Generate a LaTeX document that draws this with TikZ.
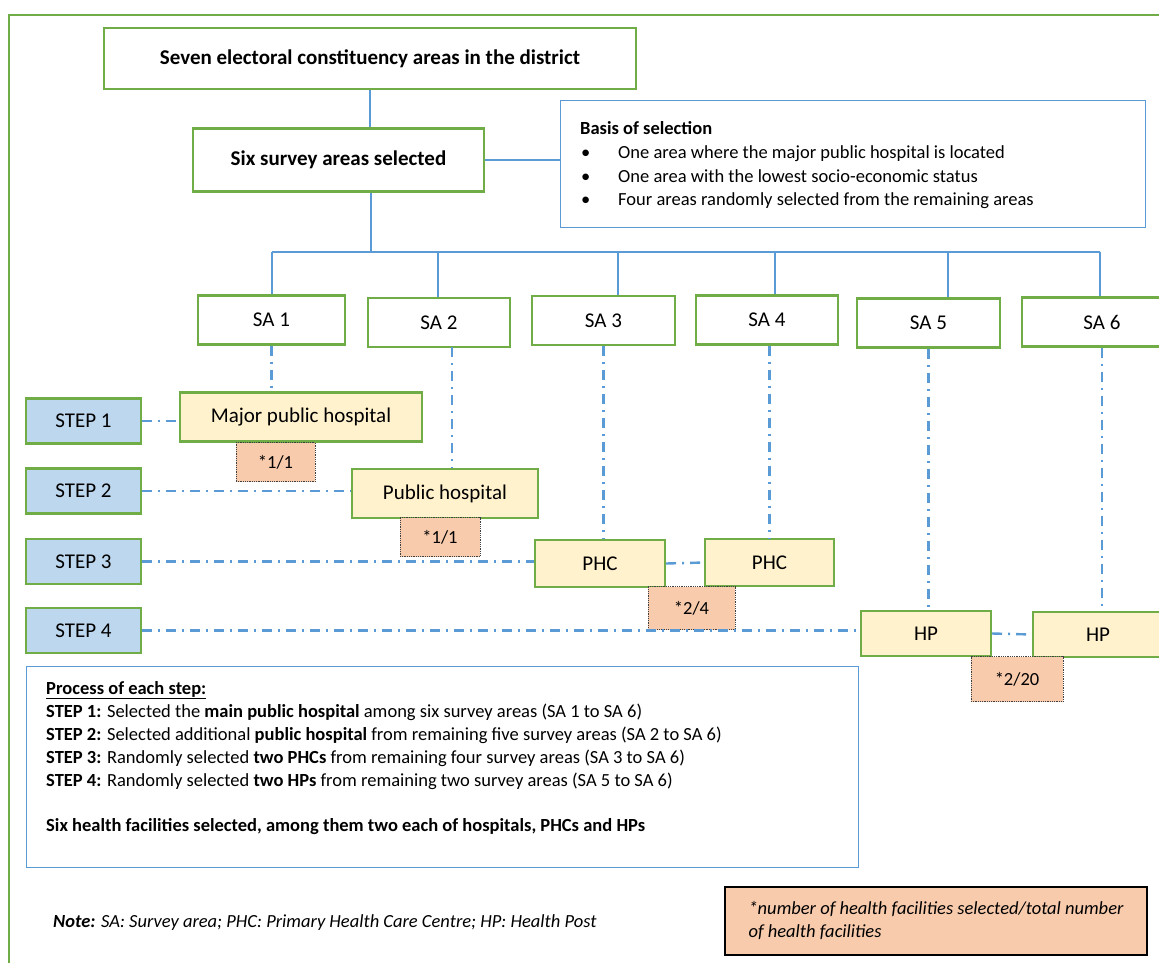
\documentclass[tikz,border=0pt]{standalone}
\usepackage{fontspec}
\setmainfont{Carlito}
\definecolor{boxgreen}{HTML}{70AD47}
\definecolor{lineblue}{HTML}{5B9BD5}
\definecolor{stepblue}{HTML}{BDD7EE}
\definecolor{facyellow}{HTML}{FFF2CC}
\definecolor{peach}{HTML}{F8CBAD}
\begin{document}
\begin{tikzpicture}[x=1pt,y=-1pt,
    greenbox/.style={draw=boxgreen,line width=2.4pt,fill=white,inner sep=0pt,
      font=\fontsize{21}{25}\selectfont},
    headbox/.style={greenbox,font=\bfseries\fontsize{21}{25}\selectfont},
    areabox/.style={greenbox,minimum height=49pt},
    stepbox/.style={greenbox,fill=stepblue,minimum width=115pt,minimum height=45pt},
    facbox/.style={greenbox,fill=facyellow},
    countbox/.style={draw=black!75,densely dotted,line width=0.8pt,fill=peach,
      inner sep=0pt,font=\fontsize{18.5}{22}\selectfont},
    infobox/.style={draw=lineblue,line width=1.2pt,inner sep=0pt},
    bodytext/.style={inner sep=0pt,align=left,font=\fontsize{18.5}{23.3}\selectfont},
    treeline/.style={draw=lineblue,line width=2.2pt},
    pickline/.style={draw=lineblue,line width=2.4pt,dash pattern=on 10pt off 6pt on 2pt off 6pt}]
  \useasboundingbox (0,0) rectangle (1159,962);
  \clip (0,0) rectangle (1159,962);
  \draw[boxgreen,line width=2.4pt] (9,15) rectangle (1190,990);

  % top of the tree
  \node[headbox,minimum width=532pt,minimum height=61pt] (top) at (370,58.5)
    {Seven electoral constituency areas in the district};
  \node[headbox,minimum width=291pt,minimum height=63pt] (six) at (338.5,160)
    {Six survey areas selected};
  \node[infobox,minimum width=585pt,minimum height=127pt,anchor=north west] (basis) at (560,100) {};
  \node[bodytext,anchor=north west,font=\fontsize{18.5}{23.7}\selectfont] (basistext) at (580,121.5)
    {\textbf{Basis of selection}\\
     \makebox[38pt][l]{\hspace{1pt}\textbullet}One area where the major public hospital is located\\
     \makebox[38pt][l]{\hspace{1pt}\textbullet}One area with the lowest socio-economic status\\
     \makebox[38pt][l]{\hspace{1pt}\textbullet}Four areas randomly selected from the remaining areas};

  % survey areas
  \node[areabox,minimum width=147pt] (sa1) at (271.5,320) {SA 1};
  \node[areabox,minimum width=142pt] (sa2) at (439,322.5) {SA 2};
  \node[areabox,minimum width=143pt] (sa3) at (603.5,320.5) {SA 3};
  \node[areabox,minimum width=142pt] (sa4) at (767,320) {SA 4};
  \node[areabox,minimum width=143pt] (sa5) at (928.5,323) {SA 5};
  \node[areabox,minimum width=160pt] (sa6) at (1102,322) {SA 6};

  \coordinate (fork) at (371,252);
  \coordinate (bus1) at (272,252);
  \coordinate (bus2) at (438,252);
  \coordinate (bus3) at (618,252);
  \coordinate (bus4) at (775,252);
  \coordinate (bus5) at (948,252);
  \coordinate (bus6) at (1100,252);

  % steps
  \node[stepbox] (step1) at (83.5,421) {STEP 1};
  \node[stepbox] (step2) at (83.5,491) {STEP 2};
  \node[stepbox] (step3) at (83.5,561.5) {STEP 3};
  \node[stepbox] (step4) at (83.5,630.5) {STEP 4};

  % selected facilities
  \node[facbox,minimum width=242pt,minimum height=49pt] (major) at (301,417) {Major public hospital};
  \node[facbox,minimum width=186pt,minimum height=49pt] (pub) at (445,493.5) {Public hospital};
  \node[facbox,minimum width=130pt,minimum height=47pt] (phc1) at (600,563.5) {PHC};
  \node[facbox,minimum width=129pt,minimum height=47pt] (phc2) at (769.5,562.5) {PHC};
  \node[facbox,minimum width=130pt,minimum height=45pt] (hp1) at (926,633.5) {HP};
  \node[facbox,minimum width=130pt,minimum height=45pt] (hp2) at (1098,634.5) {HP};

  \node[countbox,minimum width=79pt,minimum height=39pt] (count1) at (275.5,462) {*1/1};
  \node[countbox,minimum width=80pt,minimum height=39pt] (count2) at (440,537) {*1/1};
  \node[countbox,minimum width=87pt,minimum height=43pt] (count3) at (691.5,608) {*2/4};
  \node[countbox,minimum width=92pt,minimum height=45pt] (count4) at (1017,679) {*2/20};

  \coordinate (drop2) at (452,347);

  \begin{scope}
    \draw[treeline] (top.south) -- (top.south |- six.north);
    \draw[treeline] (six.south -| fork) -- (fork);
    \draw[treeline] (bus1) -- (bus6);
    \foreach \i in {1,...,6}
      \draw[treeline] (bus\i) -- (bus\i |- sa\i.north);
    \draw[treeline,line width=1.2pt] (six.east) -- (six.east -| basis.west);
  \end{scope}
  \begin{scope}
    \draw[pickline] (sa1.south) -- (sa1.south |- major.north);
    \draw[pickline] (drop2) -- (drop2 |- pub.north);
    \draw[pickline] (sa3.south) -- (sa3.south |- phc1.north);
    \draw[pickline] (phc2.north |- sa4.south) -- (phc2.north);
    \draw[pickline] (sa5.south) -- (sa5.south |- hp1.north);
    \draw[pickline] (sa6.south) -- (sa6.south |- hp2.north);
    \draw[pickline] (step1.east) -- (step1.east -| major.west);
    \draw[pickline] (step2.east) -- (step2.east -| pub.west);
    \draw[pickline] (step3.east) -- (step3.east -| phc1.west);
    \draw[pickline] (phc1.east) -- (phc2.west);
    \draw[pickline] (step4.east) -- (step4.east -| hp1.west);
    \draw[pickline] (hp1.east) -- (hp2.west);
  \end{scope}

  % process description
  \node[infobox,minimum width=832pt,minimum height=201pt,anchor=north west] (process) at (26,666) {};
  \node[bodytext,anchor=north west,font=\fontsize{18.5}{23}\selectfont] (processtext) at (46,681)
    {\underline{\textbf{Process of each step:}}\\
     \textbf{STEP 1:} Selected the \textbf{main public hospital} among six survey areas (SA 1 to SA 6)\\
     \textbf{STEP 2:} Selected additional \textbf{public hospital} from remaining five survey areas (SA 2 to SA 6)\\
     \textbf{STEP 3:} Randomly selected \textbf{two PHCs} from remaining four survey areas (SA 3 to SA 6)\\
     \textbf{STEP 4:} Randomly selected \textbf{two HPs} from remaining two survey areas (SA 5 to SA 6)\\[22pt]
     \textbf{Six health facilities selected, among them two each of hospitals, PHCs and HPs}};

  \node[bodytext,anchor=west,font=\itshape\fontsize{18.5}{23}\selectfont] (note) at (53,923)
    {\textbf{Note:} SA: Survey area; PHC: Primary Health Care Centre; HP: Health Post};
  \node[draw=black,line width=2.8pt,fill=peach,minimum width=422pt,minimum height=68pt,
    align=left,font=\itshape\fontsize{18.5}{23}\selectfont] (key) at (936,921)
    {*number of health facilities selected/total number\\of health facilities};
\end{tikzpicture}
\end{document}
